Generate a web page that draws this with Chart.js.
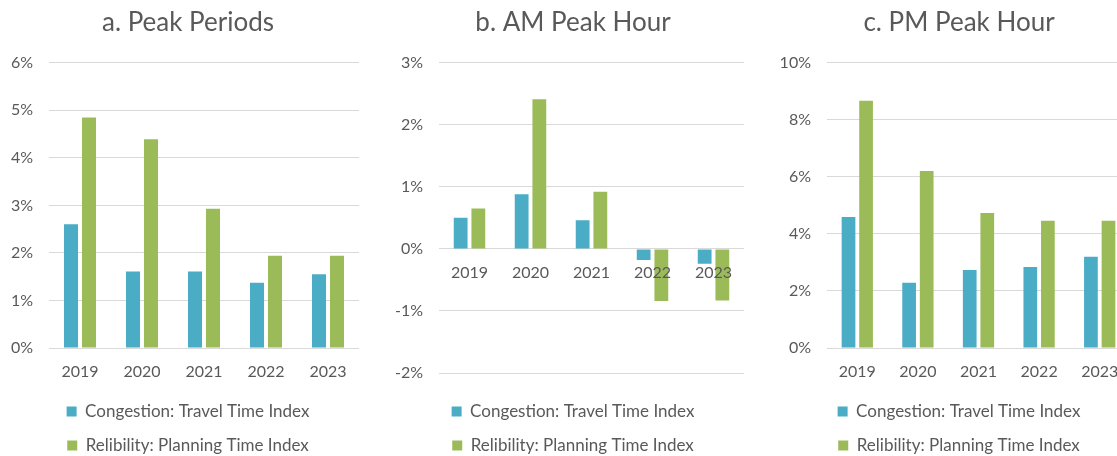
<!DOCTYPE html>
<html>
<head>
<meta charset="utf-8">
<script src="https://cdn.jsdelivr.net/npm/chart.js@4"></script>
<style>
  html, body { margin: 0; padding: 0; background: #fff; }
  body { width: 1117px; height: 456px; overflow: hidden; position: relative; }
  canvas { position: absolute; top: 0; }
</style>
</head>
<body>
<canvas id="chart-a" width="376" height="464" style="left:0px"></canvas>
<canvas id="chart-b" width="376" height="464" style="left:385px"></canvas>
<canvas id="chart-c" width="376" height="464" style="left:771px"></canvas>
<script>
const years = ['2019', '2020', '2021', '2022', '2023'];
const seriesNames = ['Congestion: Travel Time Index', 'Relibility: Planning Time Index'];

// a. Peak Periods (%)
const peakTTI = [2.60, 1.61, 1.61, 1.37, 1.55];
const peakPTI = [4.85, 4.39, 2.93, 1.94, 1.94];
// b. AM Peak Hour (%)
const amTTI = [0.50, 0.88, 0.46, -0.18, -0.24];
const amPTI = [0.65, 2.41, 0.92, -0.84, -0.83];
// c. PM Peak Hour (%)
const pmTTI = [4.59, 2.29, 2.73, 2.84, 3.20];
const pmPTI = [8.67, 6.20, 4.73, 4.46, 4.46];

const blue = '#4bacc6';
const green = '#9bbb59';
const grey = '#595959';
const font = 'Lato, "Open Sans", sans-serif';

function makeChart(id, title, tti, pti, yMin, yMax, yStep, yWidth, spacer) {
  return new Chart(document.getElementById(id), {
    type: 'bar',
    data: {
      labels: years,
      datasets: [
        { label: seriesNames[0], data: tti, backgroundColor: blue, borderWidth: 0,
          categoryPercentage: 0.58, barPercentage: 0.78 },
        { label: seriesNames[1], data: pti, backgroundColor: green, borderWidth: 0,
          categoryPercentage: 0.58, barPercentage: 0.78 }
      ]
    },
    options: {
      responsive: false,
      animation: false,
      layout: { padding: 0 },
      scales: {
        x: {
          position: { y: 0 },
          grid: { display: false },
          border: { display: false },
          ticks: { color: grey, font: { family: font, size: 16 }, padding: 6, z: 1, maxRotation: 0 }
        },
        y: {
          min: yMin,
          max: yMax,
          grid: { color: '#d9d9d9', lineWidth: 1, drawTicks: false },
          border: { display: false },
          ticks: {
            stepSize: yStep,
            padding: 16,
            color: grey,
            font: { family: font, size: 16 },
            callback: v => v + '%'
          },
          afterFit: s => { s.width = yWidth; }
        },
        // empty right margin so the title stays centred on the whole chart
        yRight: {
          position: 'right',
          grid: { display: false },
          border: { display: false },
          ticks: { display: false },
          afterFit: s => { s.width = 17; }
        }
      },
      plugins: {
        tooltip: { enabled: false },
        title: {
          display: true,
          text: title,
          color: grey,
          font: { family: font, size: 26, weight: 'normal' },
          padding: { top: 7, bottom: 24.5 }
        },
        legend: {
          position: 'bottom',
          title: { display: true, text: '', padding: 0, font: { size: 1, lineHeight: spacer + 'px' } },
          labels: {
            boxWidth: 10,
            boxHeight: 10,
            padding: 17,
            color: grey,
            font: { family: font, size: 17 }
          }
        }
      }
    }
  });
}

makeChart('chart-a', 'a. Peak Periods', peakTTI, peakPTI, 0, 6, 1, 49, 38);
makeChart('chart-b', 'b. AM Peak Hour', amTTI, amPTI, -2, 3, 1, 54, 13);
makeChart('chart-c', 'c. PM Peak Hour', pmTTI, pmPTI, 0, 10, 2, 56, 38);
</script>
</body>
</html>
